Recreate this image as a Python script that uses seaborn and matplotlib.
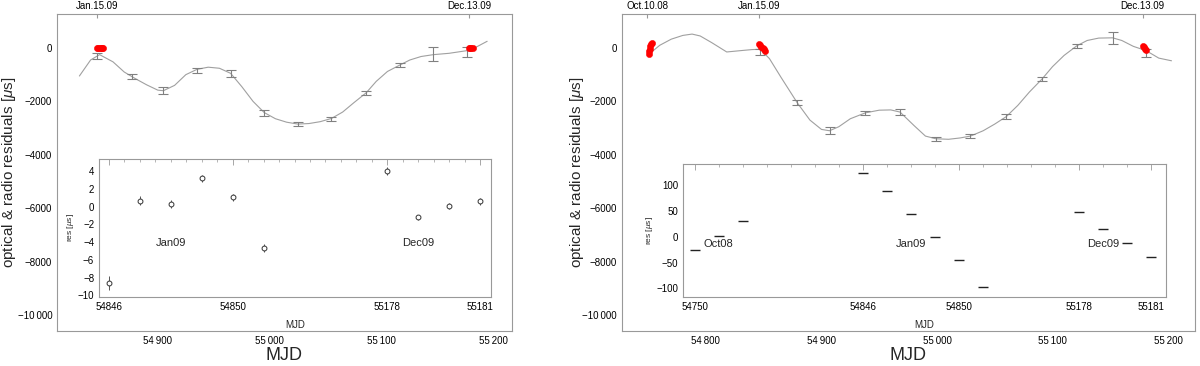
import numpy as np
import matplotlib
matplotlib.use("Agg")
import matplotlib.pyplot as plt
import seaborn as sns

# ---- left panel: radio error bars, fitted curve, optical points ----
left_obs_mjd = [54846, 54877, 54905, 54935, 54965, 54995, 55025, 55055, 55086, 55116, 55146, 55176]
left_obs_res = [-300, -1080, -1600, -850, -940, -2430, -2840, -2660, -1690, -640, -230, -150]
left_obs_err = [100, 100, 130, 100, 130, 110, 70, 90, 80, 60, 270, 200]

left_curve_mjd = [54830, 54840, 54848, 54860, 54870, 54880, 54890, 54900, 54905, 54915, 54925,
                  54935, 54945, 54955, 54965, 54975, 54985, 54995, 55005, 55015, 55025, 55035,
                  55045, 55055, 55065, 55075, 55086, 55095, 55105, 55116, 55125, 55135, 55146,
                  55160, 55176, 55185, 55194]
left_curve_res = [-1050, -450, -250, -520, -900, -1150, -1380, -1580, -1600, -1400, -1000,
                  -800, -720, -760, -950, -1450, -2000, -2420, -2650, -2780, -2850, -2830,
                  -2760, -2640, -2400, -2050, -1680, -1250, -880, -640, -450, -320, -250,
                  -200, -100, 50, 250]

left_opt_mjd = [54846, 54847, 54848, 54849, 54850, 54851, 55178, 55179, 55180, 55181]
left_opt_res = [0, 0, 0, 0, 0, 0, 0, 0, 0, 0]

# left inset residuals
left_in_mjd = [54846, 54847, 54848, 54849, 54850, 54851, 55178, 55179, 55180, 55181]
left_in_res = [-8.6, 0.7, 0.35, 3.2, 1.1, -4.7, 4.1, -1.2, 0.1, 0.6]
left_in_err = [0.8, 0.5, 0.45, 0.4, 0.4, 0.45, 0.45, 0.3, 0.35, 0.4]

# ---- right panel ----
right_obs_mjd = [54847, 54879, 54907, 54938, 54968, 54999, 55029, 55060, 55091, 55121, 55152, 55181]
right_obs_res = [-150, -2050, -3100, -2430, -2390, -3410, -3290, -2570, -1160, 80, 360, -200]
right_obs_err = [100, 90, 130, 80, 120, 80, 70, 100, 80, 80, 230, 150]

right_curve_mjd = [54753, 54760, 54770, 54780, 54788, 54795, 54805, 54818, 54830, 54840, 54847,
                   54855, 54865, 54879, 54890, 54900, 54907, 54915, 54925, 54938, 54950, 54960,
                   54968, 54980, 54990, 54999, 55010, 55020, 55029, 55040, 55050, 55060, 55070,
                   55080, 55091, 55100, 55110, 55121, 55130, 55140, 55152, 55160, 55170, 55181,
                   55192, 55203]
right_curve_res = [-150, 100, 330, 470, 520, 450, 200, -150, -100, -60, -50,
                   -400, -1100, -2050, -2700, -3050, -3100, -2950, -2650, -2430, -2330, -2320,
                   -2400, -2900, -3300, -3400, -3420, -3370, -3300, -3100, -2850, -2570, -2150,
                   -1650, -1160, -700, -280, 80, 280, 370, 380, 280, 60, -100,
                   -380, -480]

right_opt_mjd = [54750.5, 54751, 54751.5, 54752, 54752.5, 54753,
                 54846, 54847, 54848, 54849, 54850, 54851,
                 55178, 55179, 55180, 55181]
right_opt_res = [-220, -120, -20, 60, 130, 180,
                 150, 100, 50, 0, -50, -100,
                 80, 30, -20, -70]

# right inset residuals
right_in_mjd = [54750, 54751, 54752, 54846, 54847, 54848, 54849, 54850, 54851,
                55178, 55179, 55180, 55181]
right_in_res = [-25, 2, 31, 124, 89, 44, 0, -45, -97, 49, 15, -12, -39]

main_yticks = [0, -2000, -4000, -6000, -8000, -10000]
main_ylabels = ["0", "\u22122000", "\u22124000", "\u22126000", "\u22128000", "\u221210\u2009000"]
main_xticks = [54800, 54900, 55000, 55100, 55200]
main_xlabels = ["54\u2009800", "54\u2009900", "55\u2009000", "55\u2009100", "55\u2009200"]

left_in_ticks = [54846, 54850, 55178, 55181]
right_in_ticks = [54750, 54846, 54850, 55178, 55181]
left_in_yticks = [-10, -8, -6, -4, -2, 0, 2, 4]
right_in_yticks = [-100, -50, 0, 50, 100]

sns.set_style("white")
plt.rcParams['font.family'] = ['Liberation Sans', 'DejaVu Sans']
plt.rcParams['mathtext.fontset'] = 'custom'
plt.rcParams['mathtext.it'] = 'Liberation Sans:italic'
plt.rcParams['mathtext.rm'] = 'Liberation Sans'

FRAME = '#999999'


def style_frame(ax):
    for s in ax.spines.values():
        s.set_color(FRAME)
        s.set_linewidth(0.8)
    ax.tick_params(which='both', direction='in', colors=FRAME, labelcolor='black', labelsize=7)
    ax.tick_params(which='major', length=4, width=0.6)
    ax.tick_params(which='minor', length=2, width=0.5)


def main_panel(fig, rect, xlim, curve_x, curve_y, obs_x, obs_y, obs_e, opt_x, opt_y,
               top_ticks, top_labels, ylab_x):
    ax = fig.add_axes(rect)
    sns.lineplot(x=curve_x, y=curve_y, ax=ax, color='#a0a0a0', lw=0.8)
    ax.errorbar(obs_x, obs_y, yerr=obs_e, fmt='none', ecolor='#808080',
                elinewidth=0.8, capsize=3.5, capthick=0.8)
    sns.scatterplot(x=opt_x, y=opt_y, ax=ax, color='red', edgecolor='red', s=20, zorder=5)
    ax.set_xlim(*xlim)
    ax.set_ylim(-10600, 1270)
    ax.set_xticks(main_xticks, main_xlabels)
    ax.set_xticks(np.arange(54720, 55240, 20), minor=True)
    ax.set_yticks(main_yticks, main_ylabels)
    ax.set_yticks(np.arange(-10500, 1001, 500), minor=True)
    style_frame(ax)
    ax.set_xlim(*xlim)
    ax.set_xlabel("MJD", fontsize=13, labelpad=1)
    ax.set_ylabel(r"optical & radio residuals [$\mu$s]", fontsize=11)
    ax.yaxis.set_label_coords(ylab_x, 0.5)
    top = ax.secondary_xaxis('top')
    top.set_xticks(top_ticks, top_labels)
    top.tick_params(direction='in', colors=FRAME, labelcolor='black', labelsize=7,
                    length=3, pad=2)
    top.spines['top'].set_visible(False)
    return ax


def inset_panel(fig, rect, brk_mjd, brk_pos):
    fwd = lambda m: np.interp(m, brk_mjd, brk_pos)
    inv = lambda p: np.interp(p, brk_pos, brk_mjd)
    ax = fig.add_axes(rect)
    ax.set_xscale('function', functions=(fwd, inv))
    return ax, fwd, inv


fig = plt.figure(figsize=(12, 3.66), dpi=100)

# left
axL = main_panel(fig, [0.0475, 0.0956, 0.379, 0.866], (54810, 55216),
                 left_curve_mjd, left_curve_res, left_obs_mjd, left_obs_res, left_obs_err,
                 left_opt_mjd, left_opt_res, [54846, 55178], ["Jan.15.09", "Dec.13.09"], -0.086)

insL, fL, iL = inset_panel(fig, [0.0825, 0.1885, 0.3267, 0.377],
                           [54000, 54851, 55178, 56000], [-846, 5, 9, 831])
insL.errorbar(left_in_mjd, left_in_res, yerr=left_in_err, fmt='o', ms=3.5,
              mfc='white', mec='#333333', mew=0.7, ecolor='#555555', elinewidth=0.7)
insL.set_xlim(iL(-0.32), iL(12.35))
insL.set_ylim(-10.2, 5.4)
insL.set_xticks(left_in_ticks, [str(t) for t in left_in_ticks])
insL.set_xticks(iL(np.arange(0, 12.5, 0.5)), minor=True)
insL.set_yticks(left_in_yticks, [str(t).replace('-', '\u2212') for t in left_in_yticks])
insL.set_yticks(np.arange(-10, 5.1, 1), minor=True)
style_frame(insL)
insL.tick_params(which='both', top=True, labelsize=7)
insL.set_xlim(iL(-0.32), iL(12.35))
insL.set_xlabel("MJD", fontsize=7, labelpad=6)
insL.set_ylabel(r"res [$\mu$s]", fontsize=6, labelpad=1)
insL.text(54848, -4.1, "Jan09", fontsize=8, ha='center', va='center')
insL.text(55179, -4.1, "Dec09", fontsize=8, ha='center', va='center')

# right
axR = main_panel(fig, [0.518, 0.0956, 0.4775, 0.866], (54727, 55223),
                 right_curve_mjd, right_curve_res, right_obs_mjd, right_obs_res, right_obs_err,
                 right_opt_mjd, right_opt_res, [54749, 54846, 55178],
                 ["Oct.10.08", "Jan.15.09", "Dec.13.09"], -0.062)

insR, fR, iR = inset_panel(fig, [0.569, 0.1885, 0.4025, 0.363],
                           [54000, 54752, 54846, 54851, 55178, 56000],
                           [-750, 2, 7, 12, 16, 838])
sns.scatterplot(x=right_in_mjd, y=right_in_res, ax=insR, marker='_', s=45,
                linewidth=1.0, color='#222222')
insR.set_xlim(iR(-0.5), iR(19.6))
insR.set_ylim(-117, 141)
insR.set_xticks(right_in_ticks, [str(t) for t in right_in_ticks])
insR.set_xticks(iR(np.arange(0, 19.5, 1)), minor=True)
insR.set_yticks(right_in_yticks, [str(t).replace('-', '\u2212') for t in right_in_yticks])
insR.set_yticks(np.arange(-110, 141, 10), minor=True)
style_frame(insR)
insR.tick_params(which='both', top=True, labelsize=7)
insR.set_xlim(iR(-0.5), iR(19.6))
insR.set_xlabel("MJD", fontsize=7, labelpad=6)
insR.set_ylabel(r"res [$\mu$s]", fontsize=6, labelpad=1)
insR.text(54751, -15, "Oct08", fontsize=8, ha='center', va='center')
insR.text(54848, -15, "Jan09", fontsize=8, ha='center', va='center')
insR.text(55179, -15, "Dec09", fontsize=8, ha='center', va='center')

fig.savefig("out.png", dpi=100)
